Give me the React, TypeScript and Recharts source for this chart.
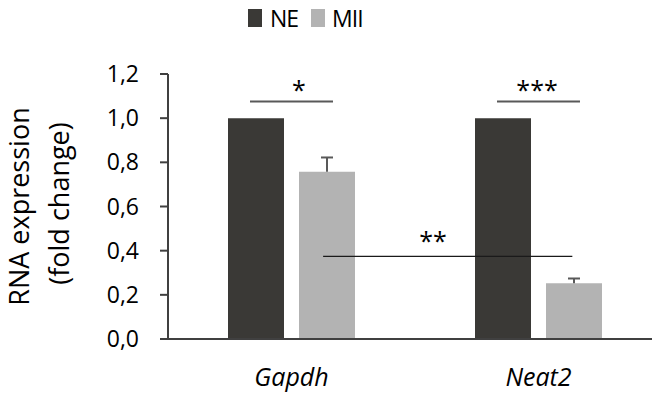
import {
  BarChart,
  Bar,
  XAxis,
  YAxis,
  Legend,
  ReferenceLine,
  ReferenceDot,
  Rectangle,
} from "recharts";

const genes = ["Gapdh", "Neat2"];
const neValues = [1.0, 1.0];
const miiValues = [0.757, 0.252];
const miiErrors = [0.065, 0.022];
const yTicks = [0, 0.2, 0.4, 0.6, 0.8, 1.0, 1.2];

// significance brackets; x is on a 0..2 scale across the two categories
const sigX1 = [0.332, 1.332, 0.628];
const sigX2 = [0.668, 1.668, 1.637];
const sigY = [1.075, 1.075, 0.374];
const sigMarks = ["*", "***", "**"];
const sigMarkX = [0.53, 1.494, 1.073];

const data = genes.map((gene, i) => ({
  gene,
  NE: neValues[i],
  MII: miiValues[i],
  err: miiErrors[i],
}));

const FONT = "'Open Sans', sans-serif";
const NE_COLOR = "#3a3936";
const MII_COLOR = "#b3b3b3";
const AXIS = "#404040";

// MII bar with a plus-only error bar on top
const MiiBar = (props: any) => {
  const { x, y, width, height, payload, fill } = props;
  const perUnit = payload.MII ? height / payload.MII : 0;
  const top = y - payload.err * perUnit;
  const cx = x + width / 2;
  return (
    <g>
      <Rectangle x={x} y={y} width={width} height={height} fill={fill} />
      <line x1={cx} x2={cx} y1={y} y2={top} stroke="#595959" strokeWidth={2} />
      <line x1={cx - 6} x2={cx + 6} y1={top} y2={top} stroke="#595959" strokeWidth={2} />
    </g>
  );
};

const renderLegend = () => (
  <div
    style={{
      display: "flex",
      alignItems: "center",
      fontFamily: FONT,
      fontSize: 23,
      color: "#000",
      lineHeight: "24px",
      letterSpacing: -1,
    }}
  >
    <span style={{ width: 14, height: 18, background: NE_COLOR, marginRight: 8 }} />
    <span>NE</span>
    <span style={{ width: 14, height: 18, background: MII_COLOR, marginLeft: 13, marginRight: 7 }} />
    <span>MII</span>
  </div>
);

const renderYLabel = (p: any) => {
  const vb = p.viewBox || { x: 0, y: 74, width: 168, height: 265 };
  const cy = vb.y + vb.height / 2;
  const x1 = vb.x + 29;
  const x2 = vb.x + 69;
  return (
    <g fontFamily={FONT} fontSize={27} fill="#000">
      <text x={x1} y={cy} textAnchor="middle" transform={`rotate(-90 ${x1} ${cy})`}>
        RNA expression
      </text>
      <text x={x2} y={cy - 3} textAnchor="middle" transform={`rotate(-90 ${x2} ${cy - 3})`}>
        (fold change)
      </text>
    </g>
  );
};

export default function App() {
  return (
    <div
      style={{
        position: "fixed",
        left: 0,
        top: 0,
        width: 652,
        height: 399,
        overflow: "hidden",
        background: "#fff",
      }}
    >
      <BarChart
        width={680}
        height={399}
        data={data}
        margin={{ top: 74, right: 18, left: 0, bottom: 0 }}
        barCategoryGap={60}
        barGap={15}
      >
        <XAxis
          dataKey="gene"
          height={60}
          interval={0}
          tickLine={false}
          tickSize={0}
          tickMargin={29}
          axisLine={{ stroke: AXIS, strokeWidth: 2 }}
          tick={{ fill: "#000", fontSize: 25, fontStyle: "italic", fontFamily: FONT }}
        />
        {/* hidden linear axis spanning both categories, used to place the brackets */}
        <XAxis
          xAxisId="n"
          dataKey="NE"
          type="number"
          domain={[0, 2]}
          allowDataOverflow
          hide
        />
        <YAxis
          width={168}
          domain={[0, 1.2]}
          ticks={yTicks}
          interval={0}
          tickSize={8}
          tickMargin={21}
          tickFormatter={(v: number) => v.toFixed(1).replace(".", ",")}
          axisLine={{ stroke: AXIS, strokeWidth: 2 }}
          tickLine={{ stroke: AXIS, strokeWidth: 2 }}
          tick={{ fill: "#000", fontSize: 23, fontFamily: FONT }}
          label={{ content: renderYLabel }}
        />
        <Legend
          layout="horizontal"
          verticalAlign="middle"
          align="center"
          content={renderLegend}
          wrapperStyle={{ top: 6, left: 248, width: "auto", height: "auto" }}
        />
        <Bar dataKey="NE" name="NE" fill={NE_COLOR} isAnimationActive={false} />
        <Bar
          dataKey="MII"
          name="MII"
          fill={MII_COLOR}
          shape={MiiBar}
          isAnimationActive={false}
        />
        {sigMarks.map((m, i) => (
          <ReferenceLine
            key={`l${i}`}
            xAxisId="n"
            ifOverflow="visible"
            segment={[
              { x: sigX1[i], y: sigY[i] },
              { x: sigX2[i], y: sigY[i] },
            ]}
            stroke={i < 2 ? "#595959" : "#1a1a1a"}
            strokeWidth={i < 2 ? 2 : 1.2}
          />
        ))}
        {sigMarks.map((m, i) => (
          <ReferenceDot
            key={`m${i}`}
            xAxisId="n"
            x={sigMarkX[i]}
            y={sigY[i]}
            r={0}
            fill="none"
            stroke="none"
            ifOverflow="visible"
            label={{
              value: m,
              position: "top",
              offset: i < 2 ? 3 : 6,
              fill: "#000",
              fontSize: 25,
              fontFamily: FONT,
            }}
          />
        ))}
      </BarChart>
    </div>
  );
}
